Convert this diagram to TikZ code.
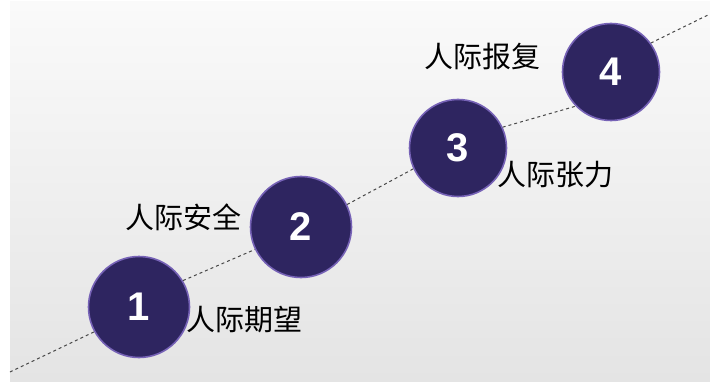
\documentclass[tikz,border=0pt]{standalone}
\usepackage{fontspec}
\setmainfont{Liberation Sans}
\newfontfamily\cjk{Noto Sans CJK SC}
\usetikzlibrary{shapes.geometric}
\definecolor{discfill}{RGB}{46,37,96}
\definecolor{discrim}{RGB}{118,98,182}
\definecolor{panellight}{RGB}{250,250,250}
\definecolor{paneldark}{RGB}{228,228,228}
\tikzset{
    disc/.style = {circle, draw=discrim, fill=discfill, line width=1.6pt, minimum size=101pt, inner sep=0pt, text=white, font=\fontsize{40}{40}\selectfont\bfseries},
    caption/.style = {align=center, inner sep=0pt, text=black, font=\cjk\fontsize{29}{29}\selectfont},
    track/.style = {dashed, black!72, line width=1pt}
}

\begin{document}
\begin{tikzpicture}[x=1pt, y=1pt]
    \useasboundingbox (0,0) rectangle (710,381);
    \shade[top color=panellight, bottom color=paneldark] (10,0) rectangle (710,379);

    % circles
    \node [disc] (c1) at (139,74) {1};
    \node [disc] (c2) at (301,154) {2};
    \node [disc, minimum size=97pt] (c3) at (458,233) {3};
    \node [disc, minimum size=97pt] (c4) at (611,309) {4};

    % texts
    \node [caption] (t1) at (244,61) {人际期望};
    \node [caption] (t2) at (183,164) {人际安全};
    \node [caption] (t3) at (555,206) {人际张力};
    \node [caption] (t4) at (482,324) {人际报复};

    % dashed track
    \coordinate (start) at (10,9);
    \coordinate (finish) at (710,367);
    \draw [track] (start) -- (c1.209);
    \draw [track] (c1.31) -- (c2.206);
    \draw [track] (c2.26) -- (c3.205);
    \draw [track] (c3.25) -- (c4.224);
    \draw [track] (c4.36) -- (finish);
\end{tikzpicture}
\end{document}
